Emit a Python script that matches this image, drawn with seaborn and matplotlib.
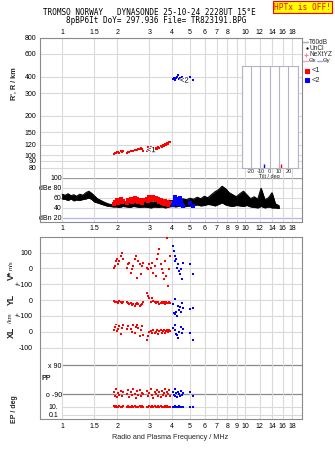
import numpy as np
import pandas as pd
import matplotlib
matplotlib.use('Agg')
import matplotlib.pyplot as plt
import seaborn as sns
from matplotlib.ticker import FixedLocator, NullLocator
from matplotlib.lines import Line2D
import matplotlib.patheffects as pe

# ---------------- data ----------------
freq_ticks = [1, 1.5, 2, 3, 4, 5, 6, 7, 8, 9, 10, 12, 14, 16, 18]
freq_labels = ['1', '1.5', '2', '3', '4', '5', '6', '7', '8', '9', '10', '12', '14', '16', '18']
freq_labels_top = ['1', '1.5', '2', '3', '4', '5', '6', '7', '8', '', '10', '12', '14', '16', '18']

range_ticks = [80, 90, 100, 120, 150, 200, 300, 400, 600, 800]
range_labels = ['80', '90', '100', '120', '150', '200', '300', '400', '600', '800']

db_ticks = [20, 40, 60, 80, 100]
db_labels = ['dBn 20', '40', '60', 'dBe 80', '100']

# echo trace 1 (red)
red_freq = [1.93, 1.95, 1.97, 2.00, 2.03, 2.06, 2.09, 2.12, 2.15,
            2.25, 2.29, 2.33, 2.37, 2.41, 2.45, 2.49, 2.53, 2.57, 2.61, 2.65, 2.69, 2.73, 2.77,
            2.90, 2.95, 3.00, 3.05, 3.10, 3.15, 3.20, 3.25, 3.30, 3.35, 3.40, 3.45, 3.50, 3.55,
            3.60, 3.65, 3.70, 3.75, 3.80, 3.85, 3.90]
red_range = [102, 104, 103, 105, 106, 104, 107, 106, 108,
             104, 105, 106, 107, 107, 108, 109, 109, 110, 111, 112, 113, 112, 108,
             108, 115, 110, 116, 108, 112, 111, 113, 112, 115, 114, 117, 116, 119, 118, 121,
             120, 123, 122, 126, 125]
red_amp = [48, 52, 50, 55, 49, 53, 57, 51, 54,
           50, 56, 53, 58, 52, 55, 60, 54, 57, 51, 56, 53, 49, 55,
           58, 54, 61, 56, 59, 62, 57, 60, 55, 58, 52, 56, 50, 54, 48, 53, 47, 51, 46, 50, 49]
red_vstar = [4, 15, 46, 57, 25, 46, 78, 99, 57,
             4, 25, 36, -27, -6, 15, 57, 78, -59, 46, 25, -38, 15, 36,
             4, -6, 25, 4, 36, -27, 15, -48, 57, 89, 120, 25, -6, -27, -69, 46, -48, 194, -112, -6, 78]
red_yl = [-5, -10, -15, -12, -20, -8, -15, -18, -12,
          -15, -20, -25, -18, -30, -22, -35, -28, -20, -25, -38, -30, -22, -15,
          42, 25, 15, -10, 15, -5, -15, -20, -10, -12, -25, -18, -15, -20, -12, -22, -15, -18, -20, -15, -18]
red_xl = [10, 30, 47, 5, 20, 35, -16, 25, 40,
          15, 35, 53, 20, 0, 40, -10, 30, 45, 25, -27, 10, 35, -20,
          -53, -27, 0, 5, -10, 10, -5, 0, 8, -12, 5, 11, -8, 3, 10, -5, 6, 12, 0, 8, 5]
red_pp = [-75, -100, -62, -110, -85, -95, -70, -105, -80,
          -90, -65, -108, -78, -98, -60, -88, -112, -72, -95, -68, -102, -82, -92,
          -70, -105, -85, -60, -98, -115, -75, -90, -65, -100, -80, -110, -70, -95, -85, -62, -105, -78, -92, -68, -100]
red_ep = [12, 9, 14, 10, 8, 13, 11, 9, 12,
          10, 13, 8, 11, 15, 9, 12, 10, 7, 11, 14, 9, 12, 10,
          11, 8, 13, 10, 12, 9, 14, 11, 8, 12, 10, 13, 9, 11, 7, 12, 10, 14, 9, 11, 10]

# echo trace 2 (blue)
blue_freq = [4.05, 4.08, 4.12, 4.15, 4.20, 4.25, 4.30, 4.35, 4.40, 4.45, 4.50, 4.55, 5.00, 5.20]
blue_range = [385, 390, 380, 395, 392, 400, 410, 388, 395, 385, 398, 380, 400, 378]
blue_amp = [46, 52, 58, 62, 57, 50, 47, 55, 60, 53, 45, 44, 50, 43]
blue_vstar = [141, 110, 78, 46, 57, 4, 25, -17, -38, -6, -69, 36, 25, -33]
blue_yl = [-27, -80, -90, 4, -76, -101, -37, -60, -45, -76, -20, -50, -59, -53]
blue_xl = [25, 53, 40, 11, -16, -21, -38, 0, 82, 32, -5, 15, -5, -53]
blue_pp = [-80, -95, -60, -105, -85, -110, -75, -90, -100, -70, -95, -85, -80, -100]
blue_ep = [8, 10, 12, 9, 11, 8, 10, 12, 9, 10, 8, 11, 10, 9]

# noise / total amplitude band
db_freq = [1.00, 1.04, 1.08, 1.12, 1.16, 1.20, 1.25, 1.30, 1.35, 1.40, 1.45, 1.50, 1.56, 1.62,
           1.68, 1.75, 1.82, 1.90, 1.98, 2.06, 2.15, 2.25, 2.35, 2.45, 2.56, 2.68, 2.80, 2.93,
           3.06, 3.20, 3.35, 3.50, 3.66, 3.83, 4.00, 4.18, 4.37, 4.57, 4.78, 5.00, 5.23, 5.47,
           5.72, 5.98, 6.25, 6.54, 6.84, 7.15, 7.48, 7.82, 8.18, 8.55, 8.94, 9.35, 9.78, 10.2,
           10.7, 11.2, 11.7, 12.2, 12.8, 13.4, 14.0, 14.6, 15.3]
db_hi = [67, 65, 68, 64, 66, 63, 67, 65, 70, 73, 69, 64, 58, 55,
         52, 49, 47, 46, 48, 47, 49, 50, 51, 49, 52, 50, 51, 53,
         50, 52, 54, 51, 53, 55, 54, 57, 55, 58, 56, 59, 57, 61,
         58, 63, 60, 66, 72, 76, 83, 78, 70, 66, 62, 68, 73, 66,
         58, 62, 57, 79, 56, 60, 70, 48, 44]
db_lo = [58, 57, 55, 58, 54, 56, 55, 57, 58, 60, 57, 52, 50, 48,
         46, 44, 43, 42, 42, 41, 43, 42, 41, 43, 42, 41, 42, 41,
         40, 42, 41, 42, 40, 42, 43, 42, 44, 42, 43, 44, 45, 46,
         44, 45, 47, 46, 44, 47, 50, 46, 44, 43, 45, 44, 43, 45,
         42, 41, 40, 43, 40, 42, 40, 40, 39]

tilt_deg = [12, -6]
tilt_colors = ['red', 'blue']

# ---------------- layout helpers ----------------
W, H = 335, 451
FMIN, FMAX = 0.7586, 20.42
FRAME = '#8a8a8a'
GRID = '#dadada'
TFS = 5.0


def rect(x0, y0, x1, y1):
    return [x0 / W, 1 - y1 / H, (x1 - x0) / W, (y1 - y0) / H]


def fx(x):
    return x / W


def fy(y):
    return 1 - y / H


sns.set_theme(style='white')
plt.rcParams['font.family'] = ['Liberation Sans', 'DejaVu Sans']
plt.rcParams['axes.linewidth'] = 0.8

fig = plt.figure(figsize=(W / 100, H / 100), dpi=100)
fig.patch.set_facecolor('white')

red_df = pd.DataFrame({'freq': red_freq, 'range': red_range, 'amp': red_amp, 'vstar': red_vstar,
                       'yl': red_yl, 'xl': red_xl, 'pp': red_pp, 'ep': red_ep})
blue_df = pd.DataFrame({'freq': blue_freq, 'range': blue_range, 'amp': blue_amp, 'vstar': blue_vstar,
                        'yl': blue_yl, 'xl': blue_xl, 'pp': blue_pp, 'ep': blue_ep})


def base(ax, spines_on):
    ax.set_facecolor('white')
    ax.set_xscale('log')
    ax.set_xlim(FMIN, FMAX)
    ax.set_xticks(freq_ticks)
    ax.xaxis.set_minor_locator(NullLocator())
    ax.set_xticklabels([''] * len(freq_ticks))
    ax.grid(False)
    ax.grid(axis='x', which='major', color=GRID, lw=0.8)
    ax.set_axisbelow(True)
    ax.tick_params(axis='both', which='both', length=0, labelsize=TFS, colors='black')
    for s in ['left', 'right', 'top', 'bottom']:
        ax.spines[s].set_visible(s in spines_on)
        ax.spines[s].set_color(FRAME)
        ax.spines[s].set_linewidth(0.8)
    ax.set_xlabel('')
    ax.set_ylabel('')


def pts(ax, col, s=3.5):
    sns.scatterplot(data=red_df, x='freq', y=col, ax=ax, color='red', marker='s', s=s,
                    linewidth=0, legend=False, zorder=3)
    sns.scatterplot(data=blue_df, x='freq', y=col, ax=ax, color='blue', marker='s', s=s,
                    linewidth=0, legend=False, zorder=3)


# ---------------- range panel ----------------
ax_r = fig.add_axes(rect(40, 37.7, 302, 177.7))
pts(ax_r, 'range', s=4.5)
base(ax_r, ['left', 'right', 'top'])
ax_r.set_yscale('log')
ax_r.set_ylim(66.9, 800)
ax_r.set_yticks(range_ticks)
ax_r.yaxis.set_minor_locator(NullLocator())
ax_r.set_yticklabels(range_labels)
ax_r.grid(axis='y', color=GRID, lw=0.8)
ax_r.tick_params(axis='y', pad=2.6)
ax_r.xaxis.set_ticks_position('top')
ax_r.set_xticklabels(freq_labels_top)
ax_r.tick_params(axis='x', labeltop=True, labelbottom=False, pad=1.2)
halo = [pe.withStroke(linewidth=1.5, foreground='white')]
ax_r.text(3.07, 108, '<1', fontsize=5.5, ha='center', va='center', color='black',
          path_effects=halo, zorder=5)
ax_r.text(4.65, 371, '<2', fontsize=5.5, ha='center', va='center', color='black',
          path_effects=halo, zorder=5)

# tilt inset
ax_t = fig.add_axes(rect(241.7, 65.7, 297.7, 167.7))
ax_t.set_facecolor('white')
ax_t.set_xlim(-30, 30)
ax_t.set_ylim(0, 1)
ax_t.set_yticks([])
ax_t.set_xticks([-30, -20, -10, 0, 10, 20, 30])
ax_t.set_xticklabels(['', '-20', '-10', '0', '10', '20', ''])
ax_t.grid(axis='x', color='#b4b4c8', lw=0.8)
ax_t.set_axisbelow(True)
ax_t.tick_params(axis='x', length=0, labelsize=4.0, pad=1.0)
for s in ax_t.spines.values():
    s.set_color('#b4b4c8')
    s.set_linewidth(0.8)
ax_t.vlines(tilt_deg, 0, 0.035, colors=tilt_colors, lw=1.0, zorder=3)
ax_t.set_xlabel('Tilt / deg', fontsize=4.0, labelpad=0.2)

# ---------------- amplitude panel ----------------
ax_db = fig.add_axes(rect(40, 177.7, 302, 222.3))
ax_db.set_xscale('log')
ax_db.fill_between(db_freq, db_lo, db_hi, color='black', lw=0.5, zorder=2)
sns.lineplot(x=db_freq, y=db_hi, ax=ax_db, color='black', lw=0.7, zorder=2)
sns.lineplot(x=db_freq, y=db_lo, ax=ax_db, color='black', lw=0.7, zorder=2)
pts(ax_db, 'amp', s=7)
base(ax_db, ['left', 'right', 'bottom'])
ax_db.set_ylim(10.8, 100)
ax_db.set_yticks(db_ticks)
ax_db.set_yticklabels(db_labels)
ax_db.tick_params(axis='y', pad=-15.6)
ax_db.hlines([40, 60, 80], 1.0, FMAX, color=GRID, lw=0.8, zorder=0.5)
ax_db.hlines(100, 1.0, FMAX, color='#9a9a9a', lw=0.9, zorder=0.5)
ax_db.hlines(20, 1.0, FMAX, color='#b4b4f0', lw=0.9, zorder=0.5)
ax_db.set_xticklabels(freq_labels)
ax_db.tick_params(axis='x', labelbottom=True, pad=2.3)

# ---------------- velocity / location panels ----------------
ax_v = fig.add_axes(rect(40, 236.7, 302, 292.1))
pts(ax_v, 'vstar')
base(ax_v, ['left', 'right', 'top'])
ax_v.set_ylim(-150, 200)
ax_v.set_yticks([100, 0, -100])
ax_v.set_yticklabels(['100', '0', '+-100'])
ax_v.grid(axis='y', color=GRID, lw=0.8)
ax_v.tick_params(axis='y', pad=5.5)

ax_yl = fig.add_axes(rect(40, 292.1, 302, 323.8))
pts(ax_yl, 'yl')
base(ax_yl, ['left', 'right'])
ax_yl.set_ylim(-150, 50)
ax_yl.set_yticks([0, -100])
ax_yl.set_yticklabels(['0', '+-100'])
ax_yl.grid(axis='y', color=GRID, lw=0.8)
ax_yl.tick_params(axis='y', pad=5.5)

ax_xl = fig.add_axes(rect(40, 323.8, 302, 355.5))
pts(ax_xl, 'xl')
base(ax_xl, ['left', 'right'])
ax_xl.set_ylim(-150, 50)
ax_xl.set_yticks([0, -100])
ax_xl.set_yticklabels(['0', '-100'])
ax_xl.grid(axis='y', color=GRID, lw=0.8)
ax_xl.tick_params(axis='y', pad=5.5)

ax_pp = fig.add_axes(rect(40, 355.5, 302, 400.5))
pts(ax_pp, 'pp')
base(ax_pp, ['left', 'right'])
ax_pp.set_ylim(-130.3, 149)
ax_pp.set_yticks([90, -90])
ax_pp.set_yticklabels(['x 90', 'o -90'])
ax_pp.tick_params(axis='y', pad=-15.6)
ax_pp.hlines([90, -90], 1.0, FMAX, color='#8a8a8a', lw=0.9, zorder=0.5)

ax_ep = fig.add_axes(rect(40, 400.5, 302, 419))
ax_ep.set_yscale('log')
pts(ax_ep, 'ep')
base(ax_ep, ['left', 'right', 'bottom'])
ax_ep.set_yscale('log')
ax_ep.set_ylim(0.01086, 311.9)
ax_ep.set_yticks([10, 0.1])
ax_ep.yaxis.set_minor_locator(NullLocator())
ax_ep.set_yticklabels(['10.', '0.1'])
ax_ep.tick_params(axis='y', pad=-13.0)
ax_ep.hlines([10, 0.1], 1.0, FMAX, color=GRID, lw=0.8, zorder=0.5)
ax_ep.set_xticklabels(freq_labels)
ax_ep.tick_params(axis='x', labelbottom=True, pad=3.1)

# ---------------- texts ----------------
mono = 'DejaVu Sans Mono'
fig.text(fx(149.2), fy(12.4), 'TROMSO NORWAY   DYNASONDE 25-10-24 2228UT 15\u00b0E',
         ha='center', va='center', family=mono, fontsize=5.5, color='black')
fig.text(fx(155.8), fy(20.3), '8pBP6It DoY= 297.936 File= TR823191.BPG',
         ha='center', va='center', family=mono, fontsize=5.5, color='black')
fig.text(fx(302.5), fy(7.3), 'HPTx is OFF!', ha='center', va='center', family=mono,
         fontsize=5.7, color='red',
         bbox=dict(boxstyle='square,pad=0.18', fc='yellow', ec='red', lw=0.8))

fig.text(fx(14.2), fy(84), "R', R / km", rotation=90, ha='center', va='center',
         fontsize=5.2, fontweight='bold')
fig.text(fx(11), fy(275.5), 'V*', rotation=90, ha='center', va='center', fontsize=6.3,
         fontweight='bold')
fig.text(fx(11), fy(265.5), 'm/s', rotation=90, ha='center', va='center', fontsize=4.3)
fig.text(fx(11), fy(299.5), 'YL', rotation=90, ha='center', va='center', fontsize=6.3,
         fontweight='bold')
fig.text(fx(11), fy(318.5), '/km', rotation=90, ha='center', va='center', fontsize=4.3)
fig.text(fx(11), fy(332.5), 'XL', rotation=90, ha='center', va='center', fontsize=6.3,
         fontweight='bold')
fig.text(fx(14.2), fy(409.5), 'EP / deg', rotation=90, ha='center', va='center',
         fontsize=5.0, fontweight='bold')
fig.text(fx(46.5), fy(379), 'PP', ha='center', va='center', fontsize=5.0, fontweight='bold')
fig.text(fx(170), fy(437.7), 'Radio and Plasma Frequency / MHz', ha='center', va='center',
         fontsize=5.2)

# ---------------- legend (right side) ----------------
LFS = 4.7


def lline(x0, x1, y, color):
    fig.add_artist(Line2D([fx(x0), fx(x1)], [fy(y), fy(y)], transform=fig.transFigure,
                          color=color, lw=1.0))


def lmark(x, y, marker, color, ms):
    fig.add_artist(Line2D([fx(x)], [fy(y)], transform=fig.transFigure, marker=marker,
                          color=color, ms=ms, mew=0.8, ls='none'))


lline(303.3, 308.3, 42.3, '#a8a8a8')
fig.text(fx(309.3), fy(42.3), 'T60dB', fontsize=LFS, va='center', ha='left')
lmark(306.7, 48.3, 'o', 'black', 0.8)
fig.text(fx(309.3), fy(48.3), 'UnCl', fontsize=LFS, va='center', ha='left')
lmark(306.2, 54.6, '+', '#ff7fa0', 3.0)
fig.text(fx(309.3), fy(54.6), 'NeXtYZ', fontsize=LFS, va='center', ha='left')
lline(303.3, 308.3, 60.9, '#ff9fb0')
fig.text(fx(309.0), fy(60.9), '\u0398x', fontsize=4.3, va='center', ha='left')
lline(316.7, 321.7, 60.9, '#9f9fff')
fig.text(fx(322.3), fy(60.9), '\u0398y', fontsize=4.3, va='center', ha='left')
lmark(307.3, 71, 's', 'red', 2.2)
fig.text(fx(311.7), fy(71), '<1', fontsize=5.4, va='center', ha='left')
lmark(307.3, 80, 's', 'blue', 2.2)
fig.text(fx(311.7), fy(80), '<2', fontsize=5.4, va='center', ha='left')

fig.savefig('out.png', dpi=100, facecolor='white')
